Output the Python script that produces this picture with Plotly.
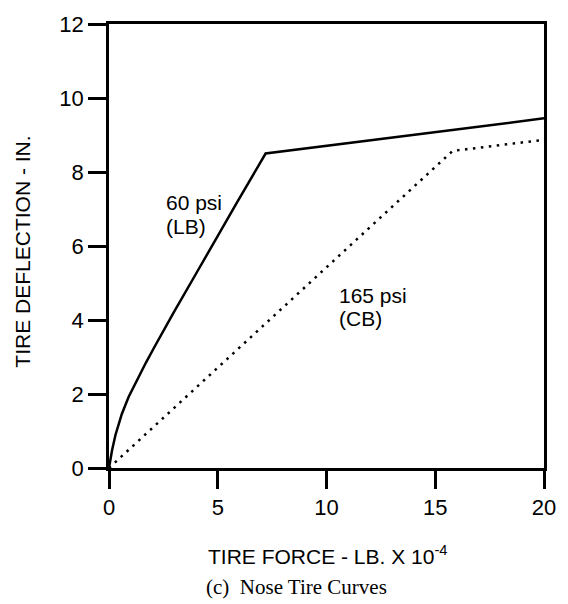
import plotly.graph_objects as go

# 60 psi (LB) nose tire curve
force_60 = [0, 0.05, 0.14, 0.3, 0.59, 0.9, 1.31, 1.7, 2.07, 2.5, 2.97, 4.0, 5.0, 5.9, 7.2, 20]
defl_60 = [0, 0.22, 0.48, 0.9, 1.46, 1.92, 2.42, 2.85, 3.25, 3.72, 4.2, 5.25, 6.28, 7.19, 8.5, 9.45]

# 165 psi (CB) nose tire curve
force_165 = [0, 15.8, 20]
defl_165 = [0, 8.57, 8.87]

x_ticks = [0, 5, 10, 15, 20]
y_ticks = [0, 2, 4, 6, 8, 10, 12]

FONT = "Liberation Sans, Arial, Helvetica, sans-serif"
SERIF = "Liberation Serif, Times New Roman, serif"

fig = go.Figure()
fig.add_trace(go.Scatter(x=force_60, y=defl_60, mode="lines",
                         line=dict(color="black", width=2.5), showlegend=False))
fig.add_trace(go.Scatter(x=force_165, y=defl_165, mode="lines",
                         line=dict(color="black", width=2.5, dash="2.5px,5.5px"),
                         showlegend=False))

axis_common = dict(showgrid=False, zeroline=False, showline=True, linecolor="black",
                   linewidth=2.5, mirror=True, ticks="outside", ticklen=18,
                   tickwidth=2.5, tickcolor="black",
                   tickfont=dict(family=FONT, size=22, color="black"))

fig.update_xaxes(range=[0, 20], tickvals=x_ticks, **axis_common)
fig.update_yaxes(range=[0, 12], tickvals=y_ticks, **axis_common)

ann = []
ann.append(dict(text="60 psi", x=2.52, y=7.17, xref="x", yref="y", xanchor="left",
                yanchor="middle", showarrow=False, font=dict(family=FONT, size=21, color="black")))
ann.append(dict(text="(LB)", x=2.52, y=6.53, xref="x", yref="y", xanchor="left",
                yanchor="middle", showarrow=False, font=dict(family=FONT, size=21, color="black")))
ann.append(dict(text="165 psi", x=10.5, y=4.67, xref="x", yref="y", xanchor="left",
                yanchor="middle", showarrow=False, font=dict(family=FONT, size=21, color="black")))
ann.append(dict(text="(CB)", x=10.5, y=4.03, xref="x", yref="y", xanchor="left",
                yanchor="middle", showarrow=False, font=dict(family=FONT, size=21, color="black")))
ann.append(dict(text="TIRE FORCE - LB. X 10<sup>-4</sup>", x=0.502, y=-0.195, xref="paper",
                yref="paper", xanchor="center", yanchor="middle", showarrow=False,
                font=dict(family=FONT, size=21, color="black")))
ann.append(dict(text="(c)  Nose Tire Curves", x=0.218, y=-0.268, xref="paper",
                yref="paper", xanchor="left", yanchor="middle", showarrow=False,
                font=dict(family=SERIF, size=21, color="black")))
ann.append(dict(text="TIRE DEFLECTION - IN.", x=-0.198, y=0.487, xref="paper",
                yref="paper", xanchor="center", yanchor="middle", showarrow=False,
                textangle=-90, font=dict(family=FONT, size=21, color="black")))

fig.update_layout(width=568, height=604, margin=dict(l=109, r=15, t=16, b=136),
                  plot_bgcolor="white", paper_bgcolor="white", annotations=ann)

fig.write_html("out.html", config={"displayModeBar": False},
               post_script="document.body.style.margin='0';document.body.style.overflow='hidden';")
